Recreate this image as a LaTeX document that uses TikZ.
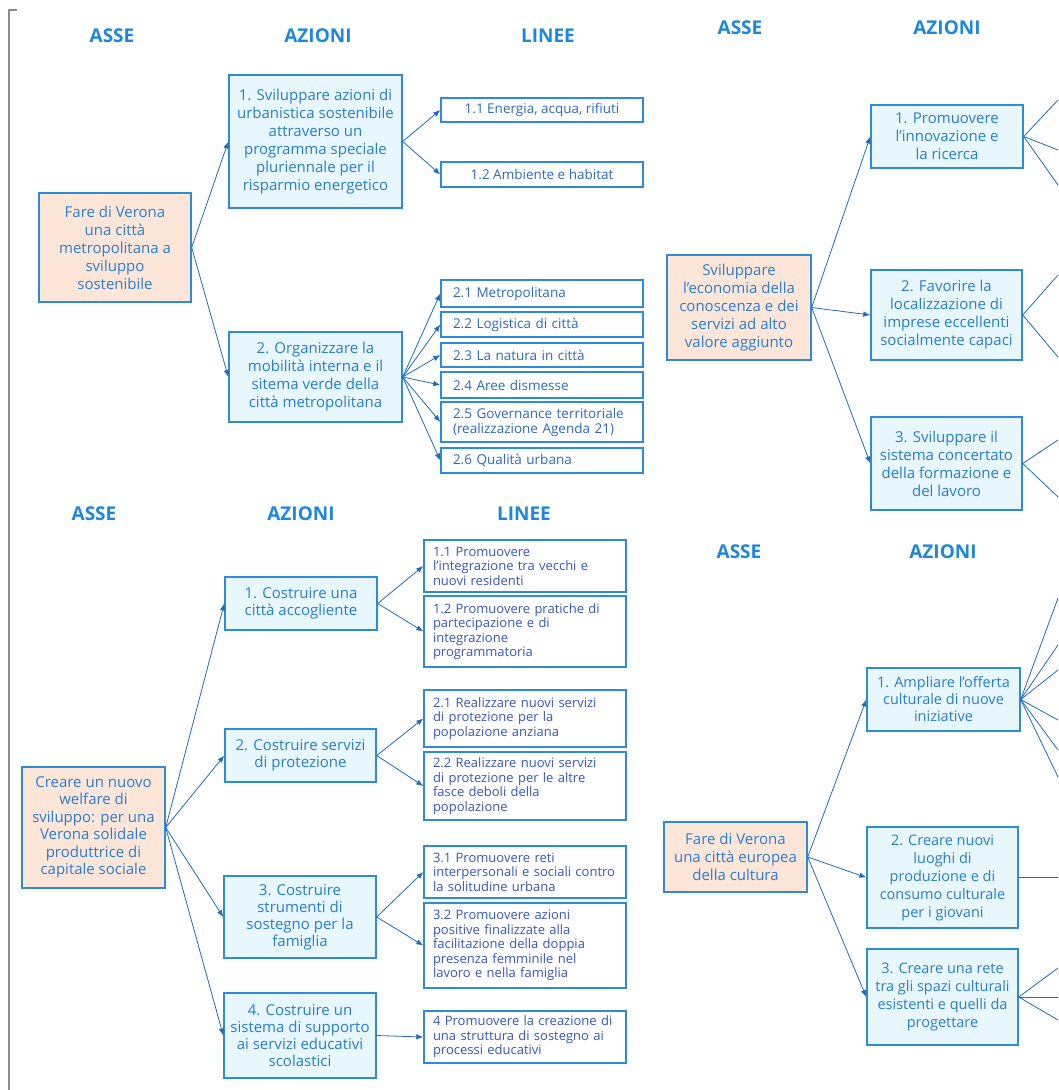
\documentclass[tikz,border=0pt]{standalone}
\usepackage{fontspec}
\setmainfont{Open Sans}
\usetikzlibrary{arrows.meta}

\definecolor{bordo}{RGB}{45,140,215}
\definecolor{testo}{RGB}{40,125,210}
\definecolor{testolinee}{RGB}{45,105,200}
\definecolor{testolineeb}{RGB}{55,85,195}
\definecolor{titolo}{RGB}{30,135,220}
\definecolor{fondoaz}{RGB}{232,246,253}
\definecolor{fondoasse}{RGB}{253,230,216}
\definecolor{freccia}{RGB}{35,105,195}
\definecolor{cornice}{RGB}{140,140,140}

\begin{document}
\begin{tikzpicture}[x=1pt,y=-1pt,
  titolo/.style={text=titolo, font=\fontsize{19}{21}\selectfont\bfseries},
  box/.style={draw=bordo, line width=1.4pt, inner sep=0pt, text=testo, align=center},
  asse/.style={box, fill=fondoasse, font=\fontsize{15}{18}\selectfont},
  azione/.style={box, fill=fondoaz, font=\fontsize{15}{18}\selectfont},
  linea/.style={box, fill=white, text=testolinee, font=\fontsize{13.5}{15}\selectfont},
  lineasx/.style={linea, align=left, text width=178pt},
  lineab/.style={box, fill=white, text=testolineeb, align=left, text width=184pt,
                 font=\fontsize{13}{14.5}\selectfont},
  freccia/.style={draw=freccia, line width=0.8pt, -{Latex[length=7pt,width=5.5pt]}},
  filo/.style={draw=freccia, line width=0.8pt},
]
\useasboundingbox (0,0) rectangle (1058,1090);
\fill[white] (0,0) rectangle (1058,1090);

% left frame
\draw[cornice, line width=1.5pt] (17,10) -- (9,10) -- (9,1090);

% ---------------- headers ----------------
\node[titolo] (h1) at (112,36) {ASSE};
\node[titolo] (h2) at (318,36) {AZIONI};
\node[titolo] (h3) at (548,36) {LINEE};
\node[titolo] (h4) at (740,28) {ASSE};
\node[titolo] (h5) at (947,28) {AZIONI};
\node[titolo] (h6) at (94,514) {ASSE};
\node[titolo] (h7) at (301,514) {AZIONI};
\node[titolo] (h8) at (524,514) {LINEE};
\node[titolo] (h9) at (739,552) {ASSE};
\node[titolo] (h10) at (943,552) {AZIONI};

% ---------------- sustainable metropolitan city ----------------
\node[asse, minimum width=152pt, minimum height=109pt] (A) at (115,247.5)
  {Fare di Verona\\una città\\metropolitana a\\sviluppo\\sostenibile};
\node[azione, minimum width=173pt, minimum height=133pt] (A1) at (315.5,141.5)
  {1. Sviluppare azioni di\\urbanistica sostenibile\\attraverso un\\programma speciale\\pluriennale per il\\risparmio energetico};
\node[azione, minimum width=173pt, minimum height=90pt] (A2) at (315.5,377)
  {2. Organizzare la\\mobilità interna e il\\sitema verde della\\città metropolitana};

\node[linea, minimum width=202pt, minimum height=24pt] (A11) at (542,110) {1.1 Energia, acqua, rifiuti};
\node[linea, minimum width=202pt, minimum height=25pt] (A12) at (542,174.5) {1.2 Ambiente e habitat};
\node[lineasx, minimum width=202pt, minimum height=27pt] (A21) at (542,293.5) {2.1 Metropolitana};
\node[lineasx, minimum width=202pt, minimum height=25pt] (A22) at (542,324.5) {2.2 Logistica di città};
\node[lineasx, minimum width=202pt, minimum height=24pt] (A23) at (542,355) {2.3 La natura in città};
\node[lineasx, minimum width=202pt, minimum height=26pt] (A24) at (542,385) {2.4 Aree dismesse};
\node[lineasx, minimum width=202pt, minimum height=40pt] (A25) at (542,422) {2.5 Governance territoriale\\(realizzazione Agenda 21)};
\node[lineasx, minimum width=202pt, minimum height=25pt] (A26) at (542,460.5) {2.6 Qualità urbana};

\draw[freccia] (A.east) -- (A1.west);
\draw[freccia] (A.east) -- (A2.west);
\draw[freccia] (A1.east) -- (A11.west);
\draw[freccia] (A1.east) -- (A12.west);
\foreach \n in {A21,A22,A23,A24,A25,A26}
  \draw[freccia] (A2.east) -- (\n.west);

% ---------------- knowledge economy ----------------
\node[asse, minimum width=144pt, minimum height=105pt] (B) at (739,307.5)
  {Sviluppare\\l'economia della\\conoscenza e dei\\servizi ad alto\\valore aggiunto};
\node[azione, minimum width=152pt, minimum height=63pt] (B1) at (947,136.5)
  {1. Promuovere\\l'innovazione e\\la ricerca};
\node[azione, minimum width=151pt, minimum height=90pt] (B2) at (946.5,315)
  {2. Favorire la\\localizzazione di\\imprese eccellenti\\socialmente capaci};
\node[azione, minimum width=151pt, minimum height=93pt] (B3) at (946.5,463.5)
  {3. Sviluppare il\\sistema concertato\\della formazione e\\del lavoro};

\draw[freccia] (B.east) -- (B1.west);
\draw[freccia] (B.east) -- (B2.west);
\draw[freccia] (B.east) -- (B3.west);

\coordinate (b11) at (1058,100);
\coordinate (b12) at (1058,150);
\coordinate (b13) at (1058,185);
\coordinate (b21) at (1058,275);
\coordinate (b22) at (1058,357);
\coordinate (b31) at (1058,440);
\coordinate (b32) at (1058,497);
\foreach \c in {b11,b12,b13} \draw[filo] (B1.east) -- (\c);
\foreach \c in {b21,b22} \draw[filo] (B2.east) -- (\c);
\foreach \c in {b31,b32} \draw[filo] (B3.east) -- (\c);

% ---------------- social welfare ----------------
\node[asse, minimum width=143pt, minimum height=121pt, font=\fontsize{15}{17.5}\selectfont] (C) at (93.5,827.5)
  {Creare un nuovo\\welfare di\\sviluppo: per una\\Verona solidale\\produttrice di\\capitale sociale};
\node[azione, minimum width=152pt, minimum height=53pt, font=\fontsize{15}{17}\selectfont] (C1) at (301,603.5)
  {1. Costruire una\\città accogliente};
\node[azione, minimum width=151pt, minimum height=53pt, font=\fontsize{15}{17}\selectfont] (C2) at (300.5,755.5)
  {2. Costruire servizi\\di protezione};
\node[azione, minimum width=152pt, minimum height=82pt, font=\fontsize{15}{17}\selectfont] (C3) at (300,917)
  {3. Costruire\\strumenti di\\sostegno per la\\famiglia};
\node[azione, minimum width=152pt, minimum height=85pt, font=\fontsize{15}{17}\selectfont] (C4) at (300,1035.5)
  {4. Costruire un\\sistema di supporto\\ai servizi educativi\\scolastici};

\node[lineab, minimum width=202pt, minimum height=52pt] (C11) at (525,566)
  {1.1 Promuovere\\l'integrazione tra vecchi e\\nuovi residenti};
\node[lineab, minimum width=202pt, minimum height=71pt] (C12) at (525,631.5)
  {1.2 Promuovere pratiche di\\partecipazione e di\\integrazione\\programmatoria};
\node[lineab, minimum width=202pt, minimum height=57pt] (C21) at (525,718.5)
  {2.1 Realizzare nuovi servizi\\di protezione per la\\popolazione anziana};
\node[lineab, minimum width=202pt, minimum height=68pt] (C22) at (525,786)
  {2.2 Realizzare nuovi servizi\\di protezione per le altre\\fasce deboli della\\popolazione};
\node[lineab, minimum width=202pt, minimum height=52pt] (C31) at (525,872)
  {3.1 Promuovere reti\\interpersonali e sociali contro\\la solitudine urbana};
\node[lineab, minimum width=202pt, minimum height=85pt] (C32) at (525,945.5)
  {3.2 Promuovere azioni\\positive finalizzate alla\\facilitazione della doppia\\presenza femminile nel\\lavoro e nella famiglia};
\node[lineab, minimum width=202pt, minimum height=52pt] (C41) at (525,1037)
  {4 Promuovere la creazione di\\una struttura di sostegno ai\\processi educativi};

\foreach \n in {C1,C2,C3,C4}
  \draw[freccia] (C.east) -- (\n.west);
\draw[freccia] (C1.east) -- (C11.west);
\draw[freccia] (C1.east) -- (C12.west);
\draw[freccia] (C2.east) -- (C21.west);
\draw[freccia] (C2.east) -- (C22.west);
\draw[freccia] (C3.east) -- (C31.west);
\draw[freccia] (C3.east) -- (C32.west);
\draw[freccia] (C4.east) -- (C41.west);

% ---------------- european city of culture ----------------
\node[asse, minimum width=143pt, minimum height=70pt] (D) at (735.5,857)
  {Fare di Verona\\una città europea\\della cultura};
\node[azione, minimum width=153pt, minimum height=63pt, font=\fontsize{14.5}{17}\selectfont] (D1) at (943.5,699.5)
  {1. Ampliare l'offerta\\culturale di nuove\\iniziative};
\node[azione, minimum width=151pt, minimum height=101pt, font=\fontsize{14.5}{18}\selectfont] (D2) at (942.5,877.5)
  {2. Creare nuovi\\luoghi di\\produzione e di\\consumo culturale\\per i giovani};
\node[azione, minimum width=151pt, minimum height=96pt, font=\fontsize{14.5}{18}\selectfont] (D3) at (942.5,997)
  {3. Creare una rete\\tra gli spazi culturali\\esistenti e quelli da\\progettare};

\draw[freccia] (D.east) -- (D1.west);
\draw[freccia] (D.east) -- (D2.west);
\draw[freccia] (D.east) -- (D3.west);

\coordinate (d11) at (1058,598);
\coordinate (d12) at (1058,645);
\coordinate (d13) at (1058,670);
\coordinate (d14) at (1058,720);
\coordinate (d15) at (1058,750);
\coordinate (d16) at (1058,777);
\coordinate (d21) at (1058,877.5);
\coordinate (d31) at (1058,968);
\coordinate (d32) at (1058,997);
\coordinate (d33) at (1058,1020);
\foreach \c in {d11,d12,d13,d14,d15,d16} \draw[filo] (D1.east) -- (\c);
\draw[filo] (D2.east) -- (d21);
\foreach \c in {d31,d32,d33} \draw[filo] (D3.east) -- (\c);

\end{tikzpicture}
\end{document}
